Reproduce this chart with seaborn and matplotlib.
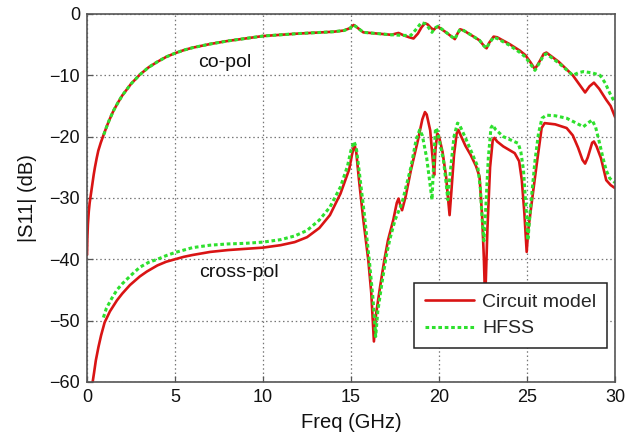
import matplotlib
matplotlib.use("Agg")
import matplotlib.pyplot as plt
import seaborn as sns
import pandas as pd

# Co-polarised reflection, circuit model
copol_circuit_f = [0.0, 0.02, 0.05, 0.1, 0.15, 0.21, 0.3, 0.38, 0.45, 0.55, 0.64, 0.78, 0.93,
                   1.1, 1.25, 1.5, 1.75, 2.0, 2.5, 3.0, 3.5, 4.0, 4.5, 5.0, 5.5, 6.0, 7.0, 8.0,
                   9.0, 10.0, 11.0, 12.0, 13.0, 14.0, 14.6, 14.95, 15.15, 15.3, 15.7, 16.5,
                   17.3, 17.55, 17.7, 17.85, 18.0, 18.3, 18.55, 18.8, 19.0, 19.2, 19.35, 19.55,
                   19.7, 19.8, 19.95, 20.4, 20.9, 21.05, 21.2, 21.4, 21.8, 22.3, 22.55, 22.7,
                   22.85, 23.1, 23.3, 24.0, 24.6, 24.9, 25.2, 25.45, 25.7, 25.95, 26.1, 26.8,
                   27.6, 28.0, 28.3, 28.55, 28.8, 29.1, 29.5, 29.75, 30.0]
copol_circuit_db = [-39.3, -36.5, -34.3, -32.2, -30.8, -29.6, -27.8, -26.2, -25.0, -23.5,
                    -22.3, -21.0, -19.8, -18.5, -17.4, -15.8, -14.5, -13.3, -11.4, -9.9, -8.7,
                    -7.8, -7.0, -6.4, -5.9, -5.5, -4.9, -4.4, -4.0, -3.6, -3.4, -3.2, -3.05,
                    -2.9, -2.7, -2.3, -1.8, -2.1, -3.0, -3.2, -3.4, -3.2, -3.1, -3.3, -3.5,
                    -3.8, -4.0, -3.2, -2.2, -1.5, -1.7, -2.3, -2.6, -2.3, -2.1, -3.0, -4.1,
                    -3.2, -2.5, -2.7, -3.4, -4.3, -5.2, -5.6, -4.7, -3.7, -3.8, -4.9, -6.0,
                    -6.7, -7.9, -9.0, -7.8, -6.5, -6.3, -7.8, -10.0, -11.6, -12.8, -11.8,
                    -11.2, -12.2, -14.0, -15.0, -16.8]

# Co-polarised reflection, HFSS
copol_hfss_f = [0.95, 1.1, 1.25, 1.5, 1.75, 2.0, 2.5, 3.0, 3.5, 4.0, 4.5, 5.0, 5.5, 6.0, 7.0,
                8.0, 9.0, 10.0, 11.0, 12.0, 13.0, 14.0, 14.6, 14.95, 15.15, 15.3, 15.7, 16.5,
                17.3, 18.0, 18.4, 18.7, 19.0, 19.2, 19.4, 19.6, 19.75, 19.95, 20.4, 20.9,
                21.05, 21.2, 21.4, 21.8, 22.3, 22.55, 22.7, 22.85, 23.1, 23.3, 24.0, 24.6,
                24.9, 25.2, 25.45, 25.7, 25.95, 26.1, 26.8, 27.6, 27.9, 28.2, 28.7, 29.15,
                29.45, 29.7, 30.0]
copol_hfss_db = [-19.7, -18.5, -17.4, -15.8, -14.5, -13.3, -11.4, -9.9, -8.7, -7.8, -7.0,
                 -6.4, -5.9, -5.5, -4.9, -4.4, -4.0, -3.6, -3.4, -3.2, -3.05, -2.9, -2.7,
                 -2.3, -1.8, -2.1, -3.0, -3.2, -3.4, -3.5, -3.5, -2.5, -1.4, -1.6, -2.2,
                 -3.0, -2.3, -2.0, -3.0, -4.1, -3.2, -2.5, -2.7, -3.4, -4.3, -5.2, -5.6,
                 -4.8, -3.8, -4.0, -5.1, -6.3, -7.0, -8.2, -9.2, -8.0, -6.7, -6.5, -8.0,
                 -10.0, -9.6, -9.4, -9.6, -10.0, -11.3, -12.9, -14.5]

# Cross-polarised reflection, circuit model
xpol_circuit_f = [0.32, 0.4, 0.5, 0.65, 0.8, 1.0, 1.3, 1.7, 2.0, 2.44, 3.0, 3.4, 4.0, 4.5,
                  5.0, 5.5, 6.0, 7.0, 8.0, 9.0, 10.0, 11.0, 11.8, 12.5, 13.2, 13.8, 14.4,
                  14.9, 15.05, 15.15, 15.22, 15.3, 15.45, 15.7, 15.98, 16.15, 16.3, 16.42,
                  16.65, 16.9, 17.1, 17.4, 17.6, 17.7, 17.8, 17.9, 18.1, 18.4, 18.8, 19.05,
                  19.2, 19.3, 19.5, 19.65, 19.72, 19.8, 19.9, 20.0, 20.2, 20.4, 20.6, 20.7,
                  20.85, 21.0, 21.1, 21.2, 21.5, 21.8, 22.1, 22.3, 22.45, 22.55, 22.62, 22.75,
                  22.9, 23.05, 23.15, 23.3, 23.65, 24.3, 24.55, 24.7, 24.85, 24.98, 25.07,
                  25.3, 25.55, 25.83, 26.0, 26.6, 27.25, 27.6, 27.9, 28.15, 28.3, 28.45,
                  28.7, 28.8, 28.95, 29.2, 29.5, 29.75, 30.0]
xpol_circuit_db = [-60.0, -58.5, -56.5, -54.3, -52.4, -50.3, -48.5, -46.7, -45.6, -44.2,
                   -42.8, -42.0, -41.0, -40.4, -40.0, -39.6, -39.3, -38.8, -38.5, -38.3,
                   -38.1, -37.7, -37.2, -36.4, -34.9, -32.8, -29.3, -25.3, -23.0, -21.8,
                   -21.6, -22.6, -27.0, -33.6, -40.1, -45.5, -53.4, -49.0, -44.5, -40.0,
                   -36.9, -33.6, -30.8, -30.1, -31.2, -32.0, -29.8, -25.5, -20.6, -17.2,
                   -16.0, -16.4, -19.0, -24.0, -26.3, -22.0, -19.5, -20.0, -22.5, -26.5,
                   -32.8, -29.0, -23.0, -19.5, -18.9, -19.6, -21.5, -23.0, -24.8, -26.5,
                   -33.0, -40.0, -47.0, -35.0, -25.0, -20.6, -20.2, -20.8, -21.6, -22.7,
                   -24.0, -27.0, -32.5, -38.8, -35.2, -30.0, -24.5, -18.6, -17.8, -18.0,
                   -18.6, -19.8, -21.8, -23.8, -24.4, -23.4, -21.0, -20.8, -21.6, -23.5,
                   -27.1, -27.9, -28.4]

# Cross-polarised reflection, HFSS
xpol_hfss_f = [0.93, 1.1, 1.4, 1.7, 2.0, 2.5, 3.0, 3.5, 4.0, 4.5, 5.0, 6.0, 7.0, 8.0, 9.0,
               10.0, 11.0, 11.8, 12.5, 13.2, 13.8, 14.4, 14.8, 15.0, 15.17, 15.3, 15.5, 15.75,
               16.05, 16.25, 16.4, 16.52, 16.75, 17.0, 17.2, 17.5, 17.9, 18.4, 18.7, 18.9,
               19.05, 19.3, 19.5, 19.6, 19.7, 19.8, 19.9, 20.25, 20.4, 20.5, 20.65, 20.85,
               21.05, 21.15, 21.5, 21.8, 22.2, 22.35, 22.45, 22.55, 22.65, 22.8, 22.95, 23.05,
               23.2, 23.65, 24.5, 24.65, 24.8, 24.95, 25.05, 25.2, 25.45, 25.65, 25.85, 26.1,
               26.6, 27.25, 27.8, 28.2, 28.45, 28.7, 28.9, 29.1, 29.3, 29.5, 29.7, 30.0]
xpol_hfss_db = [-49.5, -48.0, -46.4, -45.0, -44.0, -42.6, -41.3, -40.5, -40.0, -39.4, -38.9,
                -38.1, -37.7, -37.5, -37.4, -37.2, -36.8, -36.2, -35.3, -33.6, -31.5, -28.2,
                -24.8, -22.2, -20.8, -21.8, -26.5, -32.5, -40.5, -46.5, -52.6, -48.5, -44.0,
                -39.5, -36.8, -33.6, -30.8, -25.0, -20.5, -18.9, -19.8, -23.5, -28.0, -30.3,
                -24.0, -18.6, -19.0, -23.8, -27.5, -30.3, -25.5, -20.0, -17.8, -18.0, -20.2,
                -22.2, -24.9, -28.5, -33.5, -37.0, -32.0, -23.5, -18.6, -18.1, -18.8, -20.0,
                -21.1, -22.5, -25.5, -32.0, -36.9, -31.5, -24.0, -19.5, -17.0, -16.5, -16.6,
                -17.0, -17.8, -18.4, -17.8, -17.3, -18.5, -20.8, -23.3, -25.5, -26.8, -27.5]

series_labels = ["Circuit model", "HFSS"]
x_ticks = [0, 5, 10, 15, 20, 25, 30]
y_ticks = [0, -10, -20, -30, -40, -50, -60]

sns.set_style("ticks")
plt.rcParams["font.family"] = ["Liberation Sans", "DejaVu Sans"]

fig, ax = plt.subplots(figsize=(6.38, 4.36), dpi=100)
fig.subplots_adjust(left=0.1364, right=0.964, top=0.968, bottom=0.124)

red = "#d91414"
green = "#2ee02e"
dots = (0, (1.2, 0.9))


def frame(f, db):
    return pd.DataFrame({"f": f, "db": db})


sns.lineplot(data=frame(copol_circuit_f, copol_circuit_db), x="f", y="db", ax=ax,
             color=red, lw=1.9, sort=False, estimator=None, label=series_labels[0])
sns.lineplot(data=frame(xpol_circuit_f, xpol_circuit_db), x="f", y="db", ax=ax,
             color=red, lw=1.9, sort=False, estimator=None)
sns.lineplot(data=frame(copol_hfss_f, copol_hfss_db), x="f", y="db", ax=ax,
             color=green, lw=2.2, linestyle=dots, sort=False, estimator=None,
             label=series_labels[1])
sns.lineplot(data=frame(xpol_hfss_f, xpol_hfss_db), x="f", y="db", ax=ax,
             color=green, lw=2.2, linestyle=dots, sort=False, estimator=None)

ax.set_xlim(0, 30)
ax.set_ylim(-60, 0)
ax.set_xticks(x_ticks)
ax.set_yticks(y_ticks)
ax.grid(True, linestyle=(0, (1.2, 2.2)), color="#777777", lw=0.9)
for s in ax.spines.values():
    s.set_color("#555555")
    s.set_linewidth(1.2)
ax.tick_params(direction="in", length=4, width=0.9, color="#555555",
               labelsize=13, pad=5, labelcolor="#111111")

ax.set_xlabel("Freq (GHz)", fontsize=14.5, color="#111111", labelpad=5)
ax.set_ylabel("|S11| (dB)", fontsize=14.5, color="#111111", labelpad=9)

ax.text(7.8, -7.9, "co-pol", fontsize=14, ha="center", va="center", color="#111111")
ax.text(8.64, -42.1, "cross-pol", fontsize=14, ha="center", va="center", color="#111111")

leg = ax.legend(loc="lower right", bbox_to_anchor=(0.985, 0.092), borderaxespad=0,
                fontsize=14, fancybox=False, framealpha=1, edgecolor="#222222",
                handlelength=2.5, handletextpad=0.45, borderpad=0.55, labelspacing=0.45)
leg.get_frame().set_linewidth(1.1)

fig.savefig("out.png", dpi=100)
